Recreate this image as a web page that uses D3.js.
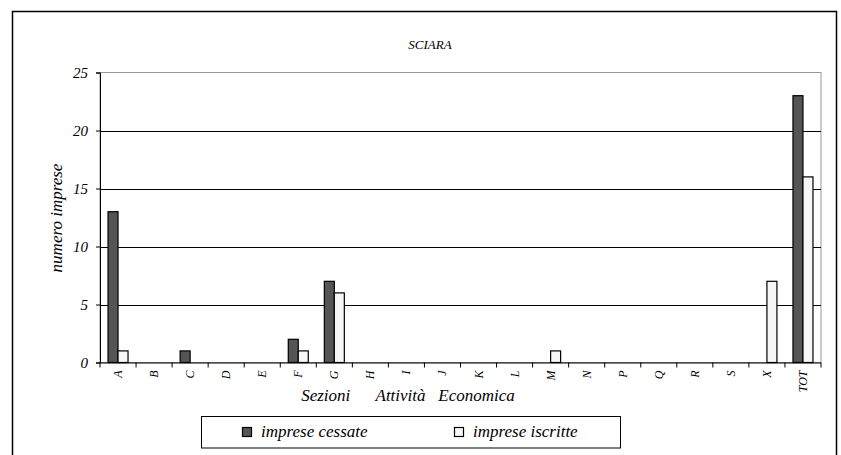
<!DOCTYPE html>
<html>
  <head>
    <meta charset="utf-8" />
    <style>
      body { margin: 0; background: #fff; }
    </style>
  </head>
  <body>
    <svg width="841" height="455"></svg>
    <script src="https://d3js.org/d3.v7.min.js"></script>
    <script>
      var categories = ["A", "B", "C", "D", "E", "F", "G", "H", "I", "J", "K", "L", "M", "N", "P", "Q", "R", "S", "X", "TOT"];
      var cessate = [13, 0, 1, 0, 0, 2, 7, 0, 0, 0, 0, 0, 0, 0, 0, 0, 0, 0, 0, 23];
      var iscritte = [1, 0, 0, 0, 0, 1, 6, 0, 0, 0, 0, 0, 1, 0, 0, 0, 0, 0, 7, 16];
      var seriesNames = ["imprese cessate", "imprese iscritte"];
      var yTicks = [0, 5, 10, 15, 20, 25];

      var FONT = "'Times New Roman', Tinos, Times, serif";
      var svg = d3.select("svg");
      var colors = ["#555555", "#f7f7f7"];

      // outer frame (bottom edge falls outside the picture)
      svg.append("path")
        .attr("d", "M12.5,460 V11.5 H836.5 V460")
        .attr("fill", "none")
        .attr("stroke", "#000")
        .attr("stroke-width", 1.5);

      var pL = 100, pR = 821, pT = 72.5, pB = 362.5;

      var x = d3.scaleBand().domain(categories).range([pL, pR]);
      var y = d3.scaleLinear().domain([0, 25]).range([pB, pT]);

      function label(sel, size) {
        return sel.style("font-family", FONT).style("font-style", "italic")
          .style("font-size", size + "px").attr("fill", "#000");
      }

      // plot area border (grey)
      svg.append("rect")
        .attr("x", pL).attr("y", pT)
        .attr("width", pR - pL).attr("height", pB - pT)
        .attr("fill", "none").attr("stroke", "#999");

      // gridlines
      svg.append("g").selectAll("line")
        .data(yTicks.filter(function (d) { return d > 0 && d < 25; }))
        .enter().append("line")
        .attr("x1", pL).attr("x2", pR)
        .attr("y1", function (d) { return Math.round(y(d)) + 0.5; })
        .attr("y2", function (d) { return Math.round(y(d)) + 0.5; })
        .attr("stroke", "#000");

      // bars
      var barW = 10;
      var data = categories.map(function (c, i) {
        return { cat: c, vals: [cessate[i], iscritte[i]] };
      });
      var groups = svg.append("g").selectAll("g")
        .data(data).enter().append("g");
      groups.selectAll("rect")
        .data(function (d) {
          return d.vals.map(function (v, k) { return { cat: d.cat, v: v, k: k }; })
            .filter(function (d) { return d.v > 0; });
        })
        .enter()
        .append("rect")
        .attr("x", function (d) { return x(d.cat) + x.bandwidth() / 2 - barW + d.k * barW; })
        .attr("y", function (d) { return y(d.v); })
        .attr("width", barW)
        .attr("height", function (d) { return pB - y(d.v); })
        .attr("fill", function (d) { return colors[d.k]; })
        .attr("stroke", "#000")
        .attr("stroke-width", 1.2);

      // y axis
      var yAxis = svg.append("g")
        .attr("transform", "translate(" + pL + ",0)")
        .call(d3.axisLeft(y).tickValues(yTicks).tickSize(4).tickFormat(d3.format("d")));
      yAxis.select(".domain").attr("stroke", "#000");
      label(yAxis.selectAll("text").attr("x", -12), 15);

      // x axis
      var xAxis = svg.append("g")
        .attr("transform", "translate(0," + pB + ")")
        .call(d3.axisBottom(x).tickSize(0).tickFormat(""));
      xAxis.select(".domain").attr("stroke", "#000").attr("d", "M" + pL + ",0.5H" + pR);
      xAxis.append("g").selectAll("line")
        .data(d3.range(categories.length + 1))
        .enter().append("line")
        .attr("x1", function (i) { return pL + i * x.step(); })
        .attr("x2", function (i) { return pL + i * x.step(); })
        .attr("y1", 0).attr("y2", 5)
        .attr("stroke", "#000");

      label(svg.append("g").selectAll("text")
        .data(categories).enter().append("text")
        .attr("transform", function (d) {
          return "translate(" + (x(d) + x.bandwidth() / 2 + 4) + "," + (pB + 8) + ") rotate(-90)";
        })
        .attr("text-anchor", "end")
        .text(function (d) { return d; }), 12);

      // axis titles
      label(svg.append("text")
        .attr("x", 408).attr("y", 401)
        .attr("text-anchor", "middle")
        .style("white-space", "pre")
        .text("Sezioni      Attività   Economica"), 17);

      label(svg.append("text")
        .attr("transform", "translate(62,218) rotate(-90)")
        .attr("text-anchor", "middle")
        .text("numero imprese"), 17);

      label(svg.append("text")
        .attr("x", 430).attr("y", 49)
        .attr("text-anchor", "middle")
        .text("SCIARA"), 13);

      // legend
      var legend = svg.append("g");
      legend.append("rect")
        .attr("x", 201.5).attr("y", 416.5)
        .attr("width", 419).attr("height", 31.5)
        .attr("fill", "#fff").attr("stroke", "#000");
      var legX = [242, 454];
      seriesNames.forEach(function (name, k) {
        legend.append("rect")
          .attr("x", legX[k] + 0.5).attr("y", 427.5)
          .attr("width", 9).attr("height", 9)
          .attr("fill", colors[k]).attr("stroke", "#000").attr("stroke-width", 1.2);
        label(legend.append("text")
          .attr("x", legX[k] + 19).attr("y", 437)
          .text(name), 17);
      });
    </script>
  </body>
</html>
